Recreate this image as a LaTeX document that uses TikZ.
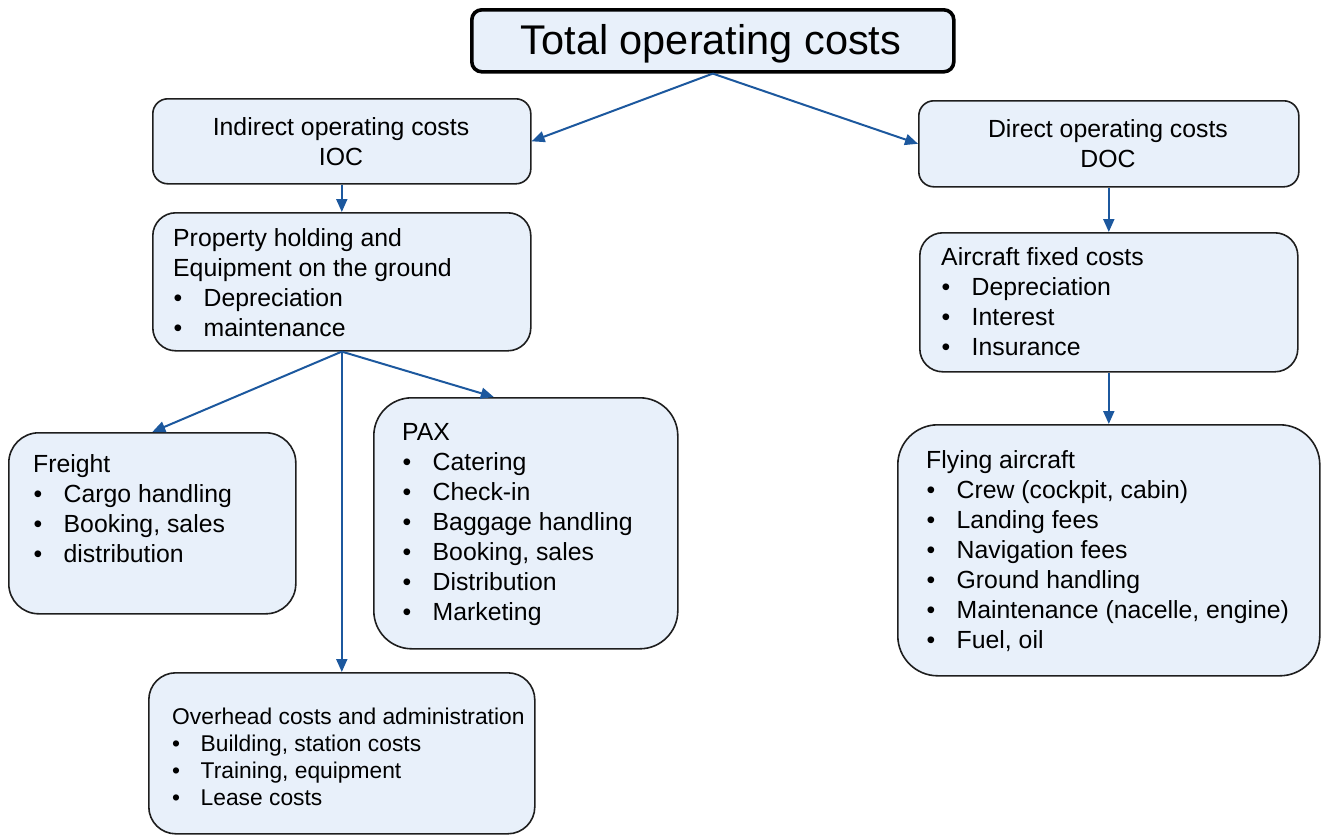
\documentclass[tikz,border=0pt]{standalone}
\usepackage{fontspec}
\setmainfont{Liberation Sans}
\usetikzlibrary{arrows.meta}
\definecolor{boxfill}{RGB}{232,240,250}
\definecolor{arrowblue}{RGB}{28,88,158}
\definecolor{edgegray}{RGB}{30,30,30}
\newcommand{\itm}{\hspace*{0.5pt}\makebox[30pt][l]{\textbullet}}
\newcommand{\itms}{\makebox[28.5pt][l]{\textbullet}}
\tikzset{
  cbox/.style={draw=edgegray, line width=1.6pt, fill=boxfill, rounded corners=#1,
    inner sep=0pt, anchor=north west},
  ltext/.style={inner sep=0pt, anchor=base west, font=\fontsize{24.8}{30}\selectfont},
  ctext/.style={inner sep=0pt, anchor=base, font=\fontsize{24.8}{30}\selectfont},
  stext/.style={inner sep=0pt, anchor=base west, font=\fontsize{22.8}{27}\selectfont},
  conn/.style={draw=arrowblue, line width=2pt, -{Triangle[length=13pt,width=11pt]}}
}
\begin{document}
\begin{tikzpicture}[x=1pt,y=-1pt]
\useasboundingbox (0,0) rectangle (1334,836);
% boxes
\node[cbox=10pt, line width=3.6pt, draw=black, minimum width=482pt, minimum height=62pt] (top) at (470,8) {};
\node[cbox=15pt, minimum width=378pt, minimum height=85pt] (ioc) at (152,98) {};
\node[cbox=15pt, minimum width=380pt, minimum height=86pt] (doc) at (918,100) {};
\node[cbox=23pt, minimum width=378pt, minimum height=138pt] (prop) at (152,212) {};
\node[cbox=23pt, minimum width=378pt, minimum height=139pt] (acf) at (919,232) {};
\node[cbox=30pt, minimum width=287pt, minimum height=181pt] (freight) at (8,432) {};
\node[cbox=38pt, minimum width=304pt, minimum height=251pt] (pax) at (373,397) {};
\node[cbox=40pt, minimum width=422pt, minimum height=251pt] (fly) at (897,424) {};
\node[cbox=27pt, minimum width=386pt, minimum height=161pt] (over) at (148,672) {};
% texts
\node[inner sep=0pt, anchor=base, font=\fontsize{41.5}{48}\selectfont] (ttop) at (711,54) {Total operating costs};
\node[ctext] (tioc) at (341,135) {\begin{tabular}[t]{@{}c@{}}Indirect operating costs\\IOC\end{tabular}};
\node[ctext] (tdoc) at (1108,137) {\begin{tabular}[t]{@{}c@{}}Direct operating costs\\DOC\end{tabular}};
\node[ltext] (tprop) at (173,246) {\begin{tabular}[t]{@{}l@{}}Property holding and\\Equipment on the ground\\\itm Depreciation\\\itm maintenance\end{tabular}};
\node[ltext] (tacf) at (941,265) {\begin{tabular}[t]{@{}l@{}}Aircraft fixed costs\\\itm Depreciation\\\itm Interest\\\itm Insurance\end{tabular}};
\node[ltext] (tfreight) at (33,472) {\begin{tabular}[t]{@{}l@{}}Freight\\\itm Cargo handling\\\itm Booking, sales\\\itm distribution\end{tabular}};
\node[ltext] (tpax) at (402,440) {\begin{tabular}[t]{@{}l@{}}PAX\\\itm Catering\\\itm Check-in\\\itm Baggage handling\\\itm Booking, sales\\\itm Distribution\\\itm Marketing\end{tabular}};
\node[ltext] (tfly) at (926,468) {\begin{tabular}[t]{@{}l@{}}Flying aircraft\\\itm Crew (cockpit, cabin)\\\itm Landing fees\\\itm Navigation fees\\\itm Ground handling\\\itm Maintenance (nacelle, engine)\\\itm Fuel, oil\end{tabular}};
\node[stext] (tover) at (172,724) {\begin{tabular}[t]{@{}l@{}}Overhead costs and administration\\\itms Building, station costs\\\itms Training, equipment\\\itms Lease costs\end{tabular}};
% connectors
\coordinate (paxin) at ([xshift=-32pt]pax.north);
\draw[conn] (top.south) -- (ioc.east);
\draw[conn] (top.south) -- (doc.west);
\draw[conn] (ioc.south) -- (prop.north);
\draw[conn] (doc.south) -- (acf.north);
\draw[conn] (acf.south) -- (fly.north);
\draw[conn] (prop.south) -- (freight.north);
\draw[conn] (prop.south) -- (paxin);
\draw[conn] (prop.south) -- (over.north);
\end{tikzpicture}
\end{document}
